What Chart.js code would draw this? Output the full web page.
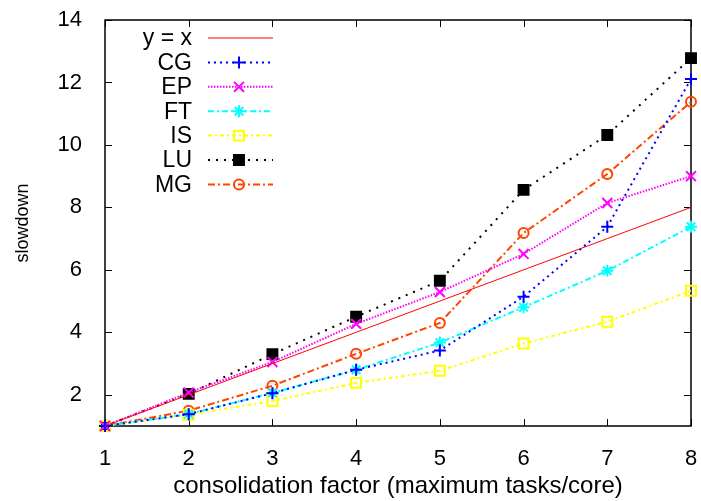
<!DOCTYPE html>
<html>
<head>
<meta charset="utf-8">
<script src="https://cdn.jsdelivr.net/npm/chart.js@4/dist/chart.umd.min.js"></script>
<style>
  body { margin: 0; background: #fff; }
</style>
</head>
<body>
<canvas id="slowdown-chart" width="701" height="501"></canvas>
<script>
// x values: consolidation factor
const factors = [1, 2, 3, 4, 5, 6, 7, 8];
const yTicks = [2, 4, 6, 8, 10, 12, 14];

// slowdown per benchmark
const identity = [1, 2, 3, 4, 5, 6, 7, 8];
const cg = [1, 1.38, 2.05, 2.8, 3.42, 5.14, 7.38, 12.11];
const ep = [1, 2.07, 3.05, 4.27, 5.29, 6.51, 8.14, 9.0];
const ft = [1, 1.38, 2.06, 2.8, 3.67, 4.8, 5.97, 7.38];
const is = [1, 1.36, 1.8, 2.38, 2.77, 3.64, 4.34, 5.33];
const lu = [1, 2.03, 3.3, 4.5, 5.65, 8.56, 10.32, 12.78];
const mg = [1, 1.49, 2.29, 3.31, 4.3, 7.18, 9.07, 11.38];

const FONT = '"Liberation Sans", Arial, sans-serif';

function pts(values)
{
  return factors.map((x, i) => ({ x: x, y: values[i] }));
}

function series(label, values, color, dash, style, radius, filled)
{
  return {
    label: label,
    data: pts(values),
    borderColor: color,
    backgroundColor: color,
    pointBackgroundColor: filled ? color : 'rgba(0,0,0,0)',
    pointBorderColor: color,
    pointBorderWidth: 2,
    borderWidth: 2,
    borderDash: dash,
    pointStyle: style,
    pointRadius: radius,
    pointHoverRadius: radius,
    tension: 0,
    clip: false
  };
}

// frame with inward ticks on all four sides (gnuplot look)
const frameTicks = {
  id: 'frameTicks',
  beforeDatasetsDraw(chart)
  {
    const ctx = chart.ctx;
    const a = chart.chartArea;
    const xs = chart.scales.x, ys = chart.scales.y;
    ctx.save();
    ctx.strokeStyle = '#000';
    ctx.lineWidth = 1.5;
    ctx.strokeRect(a.left, a.top, a.right - a.left, a.bottom - a.top);
    ctx.lineWidth = 1;
    ctx.beginPath();
    factors.forEach(v => {
      const px = Math.round(xs.getPixelForValue(v)) + 0.5;
      ctx.moveTo(px, a.bottom); ctx.lineTo(px, a.bottom - 7);
      ctx.moveTo(px, a.top); ctx.lineTo(px, a.top + 7);
    });
    yTicks.forEach(v => {
      const py = Math.round(ys.getPixelForValue(v)) + 0.5;
      ctx.moveTo(a.left, py); ctx.lineTo(a.left + 7, py);
      ctx.moveTo(a.right, py); ctx.lineTo(a.right - 7, py);
    });
    ctx.stroke();
    ctx.restore();
  }
};

// legend inside the plot: label on the left, line sample on the right
const sideLegend = {
  id: 'sideLegend',
  afterDatasetsDraw(chart)
  {
    const ctx = chart.ctx;
    const a = chart.chartArea;
    chart.data.datasets.forEach((ds, i) => {
      const y = a.top + 18 + i * 24.4;
      ctx.save();
      ctx.fillStyle = '#000';
      ctx.font = '23px ' + FONT;
      ctx.textAlign = 'right';
      ctx.textBaseline = 'middle';
      ctx.fillText(ds.label, a.left + 87, y + 1);
      ctx.strokeStyle = ds.borderColor;
      ctx.lineWidth = ds.borderWidth;
      ctx.setLineDash(ds.borderDash || []);
      ctx.beginPath();
      ctx.moveTo(a.left + 103, y);
      ctx.lineTo(a.left + 168, y);
      ctx.stroke();
      ctx.setLineDash([]);
      if (ds.pointRadius > 0)
      {
        ctx.fillStyle = ds.pointBackgroundColor;
        ctx.lineWidth = ds.pointBorderWidth;
        Chart.helpers.drawPoint(ctx, {
          pointStyle: ds.pointStyle,
          radius: ds.pointRadius,
          borderWidth: ds.pointBorderWidth,
          rotation: 0
        }, a.left + 134, y);
      }
      ctx.restore();
    });
  }
};

const ctx = document.getElementById('slowdown-chart');

new Chart(ctx, {
  type: 'line',
  data: {
    datasets: [
      {
        label: 'y = x',
        data: pts(identity),
        borderColor: '#ff0000',
        backgroundColor: '#ff0000',
        borderWidth: 1,
        pointRadius: 0,
        pointHoverRadius: 0,
        tension: 0,
        clip: false
      },
      series('CG', cg, '#0000ff', [2, 4], 'cross', 6, false),
      series('EP', ep, '#ff00ff', [1.5, 1.5], 'crossRot', 7, false),
      series('FT', ft, '#00ffff', [6, 3, 2, 3], 'star', 6, false),
      series('IS', is, '#ffff00', [4, 3, 2, 3], 'rect', 7, false),
      series('LU', lu, '#000000', [2, 6], 'rect', 7, true),
      series('MG', mg, '#ff4500', [7, 3, 2, 3], 'circle', 5, false)
    ]
  },
  options: {
    responsive: false,
    animation: false,
    events: [],
    layout: { padding: { left: 0, right: 10, top: 20, bottom: 0 } },
    plugins: {
      legend: { display: false },
      tooltip: { enabled: false }
    },
    scales: {
      x: {
        type: 'linear',
        min: 1,
        max: 8,
        afterFit: s => { s.height = 75; s.paddingLeft = 0; s.paddingRight = 0; },
        afterBuildTicks: s => { s.ticks = factors.map(v => ({ value: v })); },
        grid: { display: false },
        border: { display: false },
        ticks: { color: '#000', padding: 12, font: { family: FONT, size: 22 } },
        title: {
          display: true,
          text: 'consolidation factor (maximum tasks/core)',
          color: '#000',
          font: { family: FONT, size: 24 },
          padding: { top: 0, bottom: 0 }
        }
      },
      y: {
        min: 1,
        max: 14,
        afterFit: s => { s.width = 105; s.paddingTop = 0; s.paddingBottom = 0; },
        afterBuildTicks: s => { s.ticks = yTicks.map(v => ({ value: v })); },
        grid: { display: false },
        border: { display: false },
        ticks: { color: '#000', padding: 15, font: { family: FONT, size: 22 } },
        title: {
          display: true,
          text: 'slowdown',
          color: '#000',
          font: { family: FONT, size: 18 },
          padding: { top: 12, bottom: 0 }
        }
      }
    }
  },
  plugins: [frameTicks, sideLegend]
});
</script>
</body>
</html>
